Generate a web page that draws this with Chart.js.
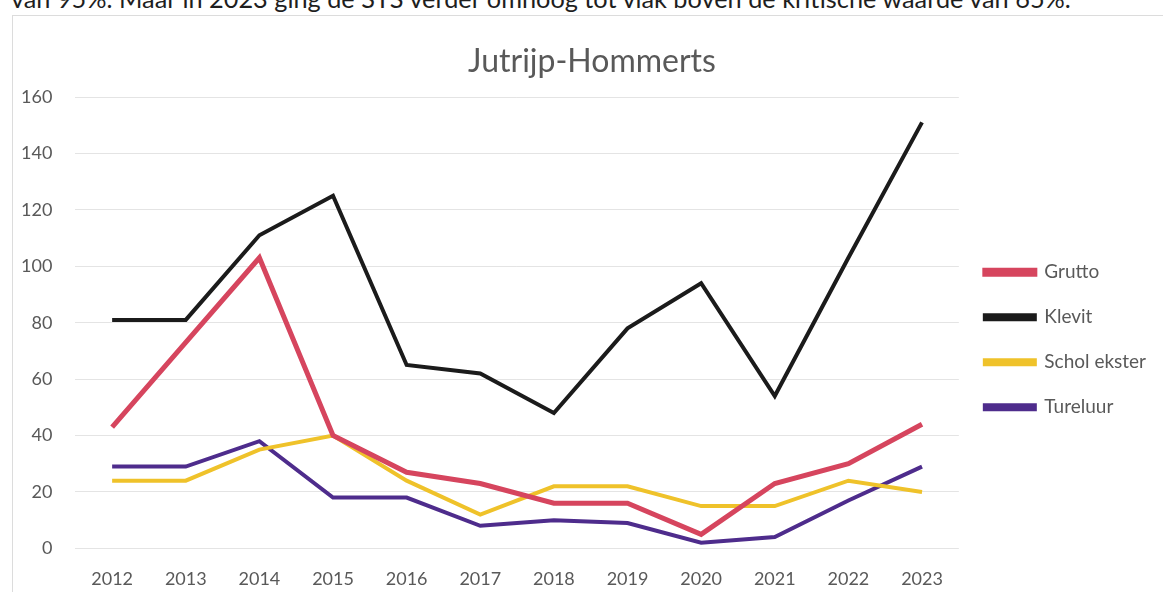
<!DOCTYPE html>
<html>
<head>
<meta charset="utf-8">
<script src="https://cdn.jsdelivr.net/npm/chart.js@4/dist/chart.umd.min.js"></script>
<style>
  body { margin: 0; background: #fff; width: 1163px; height: 592px; overflow: hidden; position: relative; font-family: Lato, "Open Sans", sans-serif; }
  #intro { position: absolute; left: 11px; top: -17px; font-size: 25.3px; color: #1e1e1e; white-space: nowrap; }
  #box { position: absolute; left: 12px; top: 15px; width: 1200px; height: 620px; border: 1px solid #dcdcdc; }
  #wrap { position: absolute; left: -15px; top: 0; width: 1165px; height: 590px; }
  #title { position: absolute; left: 392px; width: 400px; top: 41px; text-align: center; font-size: 32px; line-height: 38px; color: #595959; }
</style>
</head>
<body>
<div id="intro">van 95%. Maar in 2023 ging de STS verder omhoog tot vlak boven de kritische waarde van 65%.</div>
<div id="box"><div id="wrap"><canvas id="birdChart"></canvas></div></div>
<div id="title">Jutrijp-Hommerts</div>
<script>
const years = ['2012', '2013', '2014', '2015', '2016', '2017', '2018', '2019', '2020', '2021', '2022', '2023'];
const grutto = [43, 73, 103, 40, 27, 23, 16, 16, 5, 23, 30, 44];
const klevit = [81, 81, 111, 125, 65, 62, 48, 78, 94, 54, 103, 151];
const scholekster = [24, 24, 35, 40, 24, 12, 22, 22, 15, 15, 24, 20];
const tureluur = [29, 29, 38, 18, 18, 8, 10, 9, 2, 4, 17, 29];

let myChart;

function initChart() {
    const ctx = document.getElementById('birdChart').getContext('2d');
    const line = (label, data, color, width) => ({
        label: label,
        data: data,
        borderColor: color,
        backgroundColor: color,
        borderWidth: width,
        pointRadius: 0,
        tension: 0,
        fill: false
    });
    const tickFont = { family: 'Lato', size: 18 };
    myChart = new Chart(ctx, {
        type: 'line',
        data: {
            labels: years,
            datasets: [
                line('Grutto', grutto, '#d6455e', 5),
                line('Klevit', klevit, '#1b1b1b', 4),
                line('Schol ekster', scholekster, '#efc22a', 4),
                line('Tureluur', tureluur, '#4e2c8c', 4)
            ]
        },
        options: {
            responsive: true,
            maintainAspectRatio: false,
            animation: false,
            layout: { padding: { left: 0, right: 7, top: 81, bottom: 4 } },
            plugins: {
                legend: {
                    position: 'right',
                    align: 'start',
                    // empty title only pushes the entries down
                    title: { display: true, text: ' ', font: { size: 19 }, padding: { top: 0, bottom: 117 } },
                    labels: {
                        boxWidth: 50,
                        boxHeight: 4,
                        padding: 26,
                        color: '#595959',
                        font: { family: 'Lato', size: 19 }
                    }
                },
                tooltip: { enabled: false }
            },
            scales: {
                x: {
                    offset: true,
                    grid: { display: false },
                    border: { display: false },
                    ticks: { color: '#595959', font: tickFont, padding: 12 }
                },
                y: {
                    min: 0,
                    max: 160,
                    ticks: { stepSize: 20, color: '#595959', font: tickFont, padding: 23 },
                    grid: { color: '#e4e4e4', drawTicks: false },
                    border: { display: false }
                }
            }
        }
    });
}

window.onload = initChart;
</script>
</body>
</html>
